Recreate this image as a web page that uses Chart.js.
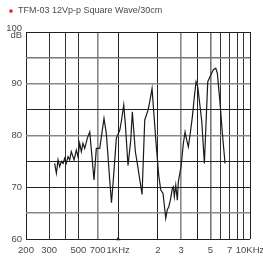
<!DOCTYPE html>
<html>
<head>
<meta charset="utf-8">
<script src="https://cdn.jsdelivr.net/npm/chart.js@4/dist/chart.umd.min.js"></script>
<style>
  html, body { margin: 0; padding: 0; background: #ffffff; }
  #wrap { width: 263px; height: 259px; position: relative; }
</style>
</head>
<body>
<div id="wrap"><canvas id="c" width="263" height="259"></canvas></div>
<script>
// ---- data ----
const seriesName = 'TFM-03 12Vp-p Square Wave/30cm';
const freqHz = [330, 340, 350, 360, 371, 382, 393, 404, 417, 429, 441, 463, 482, 496, 511, 526, 541, 558, 584, 609,
  656, 683, 725, 781, 813, 838, 863, 890, 919, 969, 1028, 1057, 1102, 1133, 1188, 1246, 1281, 1350, 1415, 1518,
  1591, 1685, 1736, 1807, 1948, 2031, 2104, 2190, 2256, 2296, 2362, 2420, 2506, 2576, 2622, 2668, 2734, 2812, 2862,
  3000, 3124, 3218, 3314, 3408, 3510, 3654, 3784, 3898, 4016, 4180, 4308, 4508, 4782, 4980, 5274, 5500, 5656, 5930,
  6172, 6470];
const levelDb = [74.6, 72.7, 75.3, 74.0, 75.0, 74.6, 75.6, 74.6, 75.9, 75.3, 76.9, 75.3, 77.2, 75.9, 78.5, 76.9, 78.5, 77.5, 79.5, 80.7,
  71.4, 77.5, 77.5, 83.3, 80.4, 75.9, 71.4, 67.0, 71.4, 79.5, 81.0, 82.7, 85.9, 82.3, 74.2, 79.1, 84.6, 76.9, 73.7, 68.6,
  83.0, 84.9, 86.5, 89.1, 77.8, 72.3, 69.5, 68.8, 65.8, 64.0, 65.7, 66.2, 67.9, 69.8, 70.1, 68.2, 70.4, 67.5, 71.1,
  74.0, 78.5, 80.7, 79.1, 77.8, 80.1, 83.6, 87.5, 90.4, 89.4, 85.6, 82.7, 74.6, 90.4, 91.4, 92.7, 93.0, 92.0, 86.2,
  80.4, 74.6];
const xTickValues = [200, 300, 400, 500, 700, 1000, 2000, 3000, 4000, 5000, 6000, 7000, 8000, 9000, 10000];
const xTickLabels = ['200', '300', '', '500', '700', '1KHz', '2', '3', '', '5', '', '7', '', '', '10KHz'];
const yTickValues = [60, 65, 70, 75, 80, 85, 90, 95, 100];
const yTickLabels = ['60', '', '70', '', '80', '', '90', '', ['100', 'dB']];
const markerFreq = [1000];
const markerDb = [60];

// ---- styles ----
const xGridColors = ['#222', '#333', '#333', '#333', '#888', '#222', '#222', '#888', '#222', '#777', '#333', '#333', '#333', '#333', '#222'];
const xGridWidths = [1, 1, 1, 1, 1.6, 1, 1, 1.6, 1, 1.6, 1, 1, 1, 1, 1];
const yGridColors = ['#222', '#888', '#222', '#222', '#888', '#222', '#888', '#777', '#222'];
const yGridWidths = [1, 1.6, 1, 1, 1.6, 1, 1.6, 1.6, 1];
const FONT = '"Liberation Sans", Arial, sans-serif';
const LEGEND_RED = '#e8262a';

const curve = freqHz.map((f, i) => ({ x: f, y: levelDb[i] }));
const marker = markerFreq.map((f, i) => ({ x: f, y: markerDb[i] }));

const legendLift = {
  id: 'legendLift',
  afterLayout(chart) {
    if (chart.legend) { chart.legend.top -= 6.5; chart.legend.bottom -= 6.5; }
  }
};

new Chart(document.getElementById('c'), {
  type: 'line',
  data: {
    datasets: [
      {
        label: seriesName,
        data: curve,
        borderColor: '#1a1a1a',
        backgroundColor: LEGEND_RED,
        borderWidth: 1.2,
        pointRadius: 0,
        tension: 0,
        fill: false
      },
      {
        label: 'marker',
        data: marker,
        showLine: false,
        pointStyle: 'triangle',
        pointRadius: 2.6,
        pointBackgroundColor: '#222',
        pointBorderColor: '#222',
        pointBorderWidth: 0,
        clip: false
      }
    ]
  },
  plugins: [legendLift],
  options: {
    responsive: false,
    animation: false,
    events: [],
    layout: { padding: { left: 0, right: 13, top: 0, bottom: 0 } },
    plugins: {
      tooltip: { enabled: false },
      legend: {
        display: true,
        position: 'top',
        align: 'start',
        labels: {
          filter: (item) => item.datasetIndex === 0,
          generateLabels: (chart) => Chart.defaults.plugins.legend.labels.generateLabels(chart)
            .map(l => Object.assign(l, { strokeStyle: LEGEND_RED, fillStyle: LEGEND_RED, lineWidth: 0 })),
          usePointStyle: true,
          pointStyle: 'circle',
          boxWidth: 5,
          boxHeight: 2.6,
          padding: 8.5,
          color: '#4a4a4a',
          font: { family: FONT, size: 9 }
        }
      }
    },
    scales: {
      x: {
        type: 'logarithmic',
        min: 200,
        max: 10000,
        border: { display: false },
        afterBuildTicks: (scale) => { scale.ticks = xTickValues.map(v => ({ value: v })); },
        afterFit: (scale) => { scale.height = 20; scale.paddingLeft = 0; scale.paddingRight = 0; },
        grid: {
          drawTicks: false,
          color: (ctx) => xGridColors[ctx.index] || '#333',
          lineWidth: (ctx) => xGridWidths[ctx.index] || 1
        },
        ticks: {
          autoSkip: false,
          maxRotation: 0,
          minRotation: 0,
          padding: 6,
          color: '#4a4a4a',
          font: { family: FONT, size: 9.5 },
          callback: (value, index) => xTickLabels[index]
        }
      },
      y: {
        min: 60,
        max: 100,
        border: { display: false },
        afterBuildTicks: (scale) => { scale.ticks = yTickValues.map(v => ({ value: v })); },
        afterFit: (scale) => { scale.width = 26; scale.paddingTop = 32; scale.paddingBottom = 0; },
        grid: {
          drawTicks: false,
          color: (ctx) => yGridColors[ctx.index] || '#333',
          lineWidth: (ctx) => yGridWidths[ctx.index] || 1
        },
        ticks: {
          autoSkip: false,
          padding: 4,
          color: '#4a4a4a',
          font: { family: FONT, size: 9.5, lineHeight: 0.72 },
          callback: (value, index) => yTickLabels[index]
        }
      }
    }
  }
});
</script>
</body>
</html>
